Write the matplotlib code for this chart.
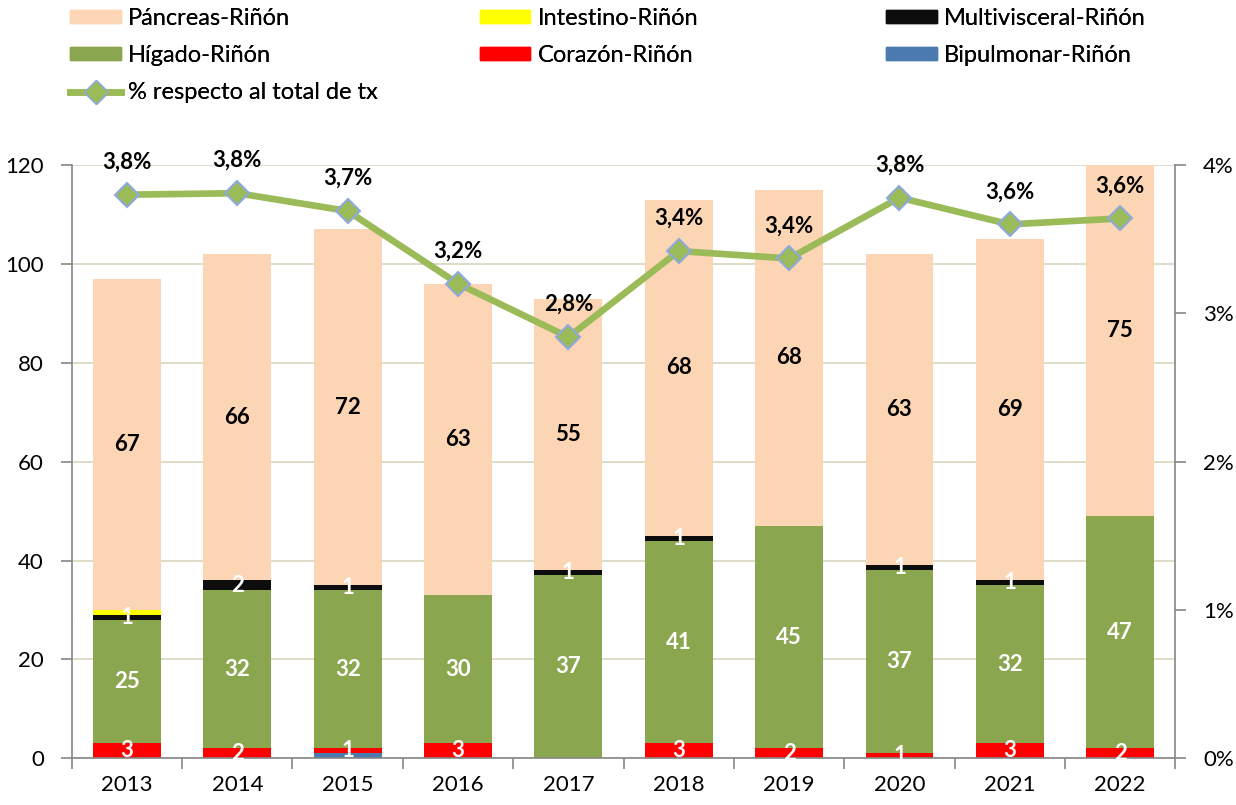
import numpy as np
import matplotlib.pyplot as plt
from matplotlib.patches import Patch
from matplotlib.lines import Line2D
from matplotlib.ticker import FuncFormatter, FixedLocator

plt.rcParams['font.family'] = ['Lato', 'DejaVu Sans']

years = ['2013', '2014', '2015', '2016', '2017', '2018', '2019', '2020', '2021', '2022']
bipulmonar = [0, 0, 1, 0, 0, 0, 0, 0, 0, 0]
corazon = [3, 2, 1, 3, 0, 3, 2, 1, 3, 2]
higado = [25, 32, 32, 30, 37, 41, 45, 37, 32, 47]
multivisceral = [1, 2, 1, 0, 1, 1, 0, 1, 1, 0]
intestino = [1, 0, 0, 0, 0, 0, 0, 0, 0, 0]
pancreas = [67, 66, 72, 63, 55, 68, 68, 63, 69, 75]
pct_tx = [3.80, 3.81, 3.69, 3.20, 2.84, 3.42, 3.37, 3.78, 3.60, 3.64]

# bottom to top stacking order
series = [
    ('Bipulmonar-Riñón', bipulmonar, '#4A7AB0', None),
    ('Corazón-Riñón', corazon, '#FF0000', 'white'),
    ('Hígado-Riñón', higado, '#8AA64E', 'white'),
    ('Multivisceral-Riñón', multivisceral, '#0D0D0D', 'white'),
    ('Intestino-Riñón', intestino, '#FFFF00', None),
    ('Páncreas-Riñón', pancreas, '#FCD5B5', 'black'),
]
colors = {name: c for name, _, c, _ in series}
line_green = '#9BBB59'
marker_edge = '#8EA9DB'

fig = plt.figure(figsize=(12.36, 8.05), dpi=100)
ax = fig.add_axes([0.058, 0.058, 0.893, 0.737])
x = np.arange(len(years))
width = 0.615

bottom = np.zeros(len(years))
for name, vals, color, lab_color in series:
    vals = np.array(vals, dtype=float)
    ax.bar(x, vals, width, bottom=bottom, color=color, zorder=2)
    if lab_color:
        for i, v in enumerate(vals):
            if v > 0:
                ax.text(x[i], bottom[i] + v / 2, f'{int(v)}', ha='center', va='center',
                        color=lab_color, fontsize=16, fontweight='bold', zorder=3)
    bottom += vals

ax.set_ylim(0, 120)
ax.set_xlim(-0.5, len(years) - 0.5)
ax.set_yticks(range(0, 121, 20))
ax.yaxis.grid(True, color='#DDD9C3', linewidth=1.3, zorder=0)
ax.set_axisbelow(True)
ax.set_xticks(x)
ax.set_xticklabels(years)
ax.xaxis.set_minor_locator(FixedLocator(np.arange(-0.5, len(years), 1)))
ax.tick_params(axis='x', which='major', length=0, pad=12, labelsize=16)
ax.tick_params(axis='x', which='minor', length=8, color='#868686', width=1.2)
ax.tick_params(axis='y', length=8, color='#868686', width=1.2, labelsize=16, pad=12)
for s in ['top', 'right']:
    ax.spines[s].set_visible(False)
for s in ['left', 'bottom']:
    ax.spines[s].set_color('#868686')
    ax.spines[s].set_linewidth(1.2)

ax2 = ax.twinx()
ax2.set_ylim(0, 4)
ax2.set_yticks([0, 1, 2, 3, 4])
ax2.yaxis.set_major_formatter(FuncFormatter(lambda v, p: f'{int(v)}%'))
ax2.tick_params(axis='y', length=8, color='#868686', width=1.2, labelsize=16, pad=12)
for s in ['top', 'left', 'bottom']:
    ax2.spines[s].set_visible(False)
ax2.spines['right'].set_color('#868686')
ax2.spines['right'].set_linewidth(1.2)
ax2.plot(x, pct_tx, color=line_green, linewidth=4.8, marker='D', markersize=12,
         markerfacecolor=line_green, markeredgecolor=marker_edge, markeredgewidth=1.5, zorder=4)
for i, p in enumerate(pct_tx):
    ax2.text(x[i], p + 0.22, f'{p:.1f}%'.replace('.', ','), ha='center', va='center',
             fontsize=16, fontweight='bold', color='black', zorder=5)

pct_handle = Line2D([0], [0], color=line_green, linewidth=4.8, marker='D', markersize=12,
                    markerfacecolor=line_green, markeredgecolor=marker_edge,
                    label='% respecto al total de tx')
legend_cols = [
    (0.057, [Patch(color=colors['Páncreas-Riñón'], label='Páncreas-Riñón'),
             Patch(color=colors['Hígado-Riñón'], label='Hígado-Riñón'),
             pct_handle]),
    (0.388, [Patch(color=colors['Intestino-Riñón'], label='Intestino-Riñón'),
             Patch(color=colors['Corazón-Riñón'], label='Corazón-Riñón')]),
    (0.717, [Patch(color=colors['Multivisceral-Riñón'], label='Multivisceral-Riñón'),
             Patch(color=colors['Bipulmonar-Riñón'], label='Bipulmonar-Riñón')]),
]
for xpos, hs in legend_cols:
    leg = fig.legend(handles=hs, loc='upper left', bbox_to_anchor=(xpos, 0.99),
                     frameon=False, fontsize=17, handlelength=2.15, handleheight=0.5,
                     handletextpad=0.3, labelspacing=0.68, borderpad=0, borderaxespad=0)
    fig.add_artist(leg)

fig.savefig('out.png', dpi=100)
